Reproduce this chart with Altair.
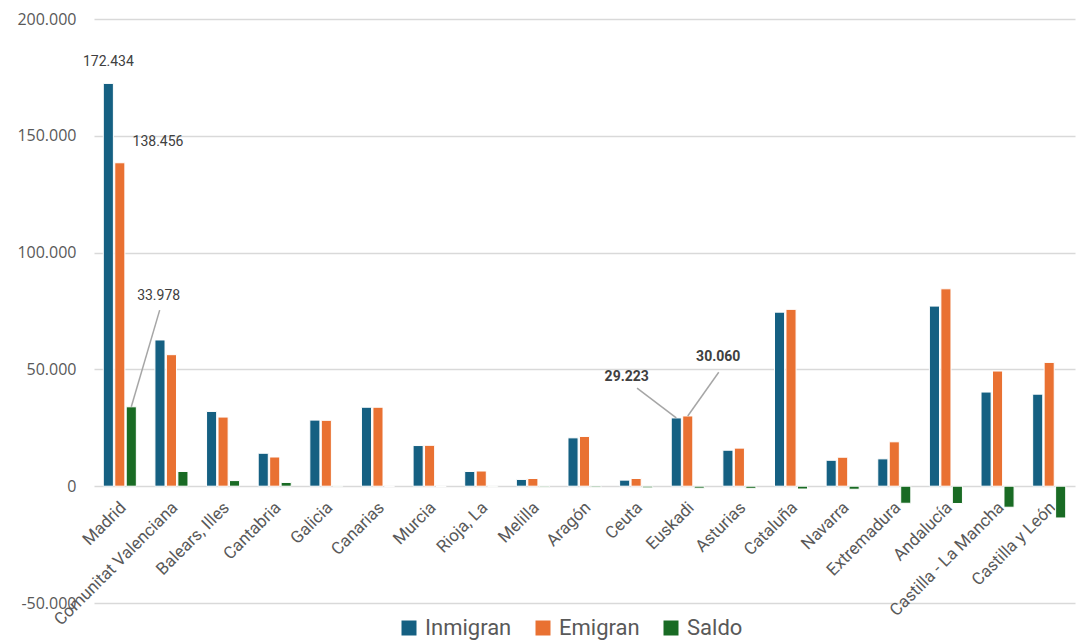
import altair as alt
import pandas as pd

regions = ["Madrid", "Comunitat Valenciana", "Balears, Illes", "Cantabria", "Galicia",
           "Canarias", "Murcia", "Rioja, La", "Melilla", "Aragón", "Ceuta", "Euskadi",
           "Asturias", "Cataluña", "Navarra", "Extremadura", "Andalucía",
           "Castilla - La Mancha", "Castilla y León"]
inmigran = [172434, 62600, 32000, 14100, 28300, 33800, 17400, 6300, 2900, 20700,
            2600, 29223, 15400, 74500, 11100, 11700, 77100, 40300, 39400]
emigran = [138456, 56300, 29600, 12500, 28200, 33800, 17500, 6500, 3300, 21300,
           3300, 30060, 16300, 75700, 12400, 19000, 84500, 49300, 53000]
saldo = [33978, 6300, 2400, 1600, 100, -20, -100, -200, -400, -600,
         -700, -837, -900, -1200, -1300, -7300, -7400, -9000, -13600]
series = ["Inmigran", "Emigran", "Saldo"]
colors = ["#156082", "#E97132", "#196B24"]
y_ticks = [-50000, 0, 50000, 100000, 150000, 200000]

rows = []
for i, r in enumerate(regions):
    for s, vals in zip(series, [inmigran, emigran, saldo]):
        rows.append({"Region": r, "Serie": s, "Valor": vals[i]})
df = pd.DataFrame(rows)

# annotation placement (label anchor offsets, in category steps / value units)
PAD_IN, SUB_PAD = 0.36, 0.12
sub = (1 - PAD_IN) / (3 - SUB_PAD)
ser_off = {"Inmigran": -sub, "Emigran": 0.0, "Saldo": sub}
ann_spec = [
    # region, serie, line_dx, line_dy, text_dx, text_dy, bold, line
    ("Madrid", "Inmigran", 0.0, 0, 0.0, 9300, False, False),
    ("Madrid", "Emigran", 0.0, 0, 0.74, 8900, False, False),
    ("Madrid", "Saldo", 0.55, 41400, 0.53, 47400, False, True),
    ("Euskadi", "Inmigran", -0.76, 12800, -0.96, 17500, True, True),
    ("Euskadi", "Emigran", 0.60, 18700, 0.59, 25200, True, True),
]
vals_map = {"Inmigran": inmigran, "Emigran": emigran, "Saldo": saldo}
arows = []
for reg, s, ldx, ldy, tdx, tdy, bold, line in ann_spec:
    i = regions.index(reg)
    v = vals_map[s][i]
    x0 = i + 0.5 + ser_off[s]
    arows.append({
        "x0": x0, "Valor": v, "x1": x0 + ldx, "y1": v + ldy,
        "xt": x0 + tdx, "yt": v + tdy,
        "label": f"{v:,}".replace(",", "."), "bold": bold, "line": line,
    })
adf = pd.DataFrame(arows)

W, H = 981, 584
yscale = alt.Scale(domain=[-50000, 200000], nice=False)
font = "Roboto"

bars = alt.Chart(df).mark_bar(stroke="white", strokeWidth=1).encode(
    x=alt.X("Region:N", sort=regions,
            scale=alt.Scale(paddingInner=PAD_IN, paddingOuter=PAD_IN / 2),
            axis=alt.Axis(title=None, labelAngle=-45, labelFontSize=17, labelFont=font,
                          labelColor="#595959", domain=False, ticks=False, grid=False,
                          offset=-117, labelOverlap=False, labelPadding=13,
                          labelOffset=-2)),
    xOffset=alt.XOffset("Serie:N", sort=series,
                        scale=alt.Scale(paddingInner=SUB_PAD, paddingOuter=0)),
    y=alt.Y("Valor:Q", scale=yscale, title=None,
            axis=alt.Axis(title=None, values=y_ticks,
                          labelExpr="replace(replace(format(datum.value, ','), ',', '.'), '\u2212', '-')",
                          grid=True, gridColor="#d9d9d9", gridWidth=1.5, domain=False,
                          ticks=False, labelFontSize=16, labelFont="Open Sans",
                          labelColor="#595959", labelPadding=18)),
    color=alt.Color("Serie:N", sort=series,
                    scale=alt.Scale(domain=series, range=colors),
                    legend=alt.Legend(title=None, orient="none", legendX=304, legendY=598,
                                      direction="horizontal", symbolType="square",
                                      symbolSize=225, symbolStrokeWidth=0,
                                      labelFont=font, labelFontSize=22,
                                      labelColor="#595959", columnPadding=20, labelOffset=5)),
)

xq = alt.Scale(domain=[0, len(regions)], nice=False, zero=False)

lines = alt.Chart(adf).transform_filter("datum.line").mark_rule(
    color="#a6a6a6", strokeWidth=1.5).encode(
    x=alt.X("x0:Q", scale=xq, axis=None),
    x2="x1:Q",
    y=alt.Y("Valor:Q", scale=yscale, title=None),
    y2="y1:Q",
)

txt_norm = alt.Chart(adf).transform_filter("!datum.bold").mark_text(
    font=font, fontSize=14, color="#404040", baseline="middle").encode(
    x=alt.X("xt:Q", scale=xq, axis=None),
    y=alt.Y("yt:Q", scale=yscale, title=None),
    text="label:N",
)
txt_bold = alt.Chart(adf).transform_filter("datum.bold").mark_text(
    font=font, fontSize=14, fontWeight="bold", color="#404040", baseline="middle").encode(
    x=alt.X("xt:Q", scale=xq, axis=None),
    y=alt.Y("yt:Q", scale=yscale, title=None),
    text="label:N",
)

chart = alt.layer(bars, lines, txt_norm, txt_bold).resolve_scale(
    x="independent"
).properties(
    width=W, height=H,
    autosize=alt.AutoSizeParams(type="none"),
    padding={"left": 86, "top": 11, "right": 4, "bottom": 38},
).configure_view(stroke=None)

chart.save("out.html", embed_options={"renderer": "svg", "actions": False})
